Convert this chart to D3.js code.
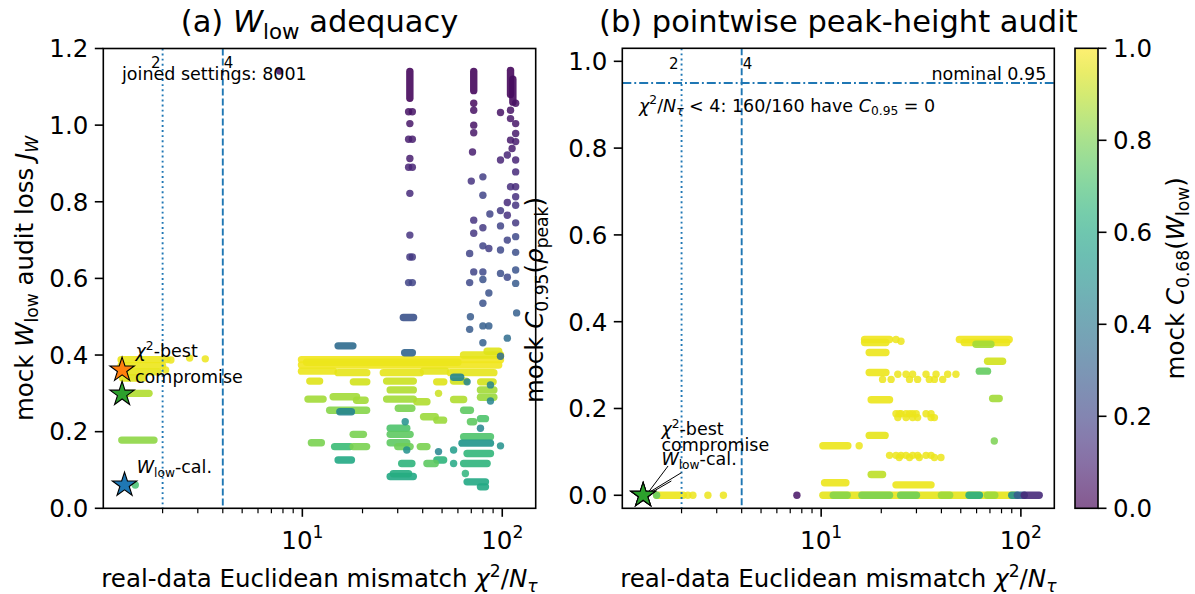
<!DOCTYPE html>
<html><head><meta charset="utf-8">
<script src="https://cdn.jsdelivr.net/npm/d3@7"></script>
<style>
body{margin:0;background:#fff}
text{font-family:"DejaVu Sans",sans-serif;white-space:pre;fill:#000}
</style>
</head><body>
<svg id="c" width="1195" height="594"></svg>
<script>
// ---------------- data ----------------
const X_DOMAIN = [1.01, 147];
const Y_DOMAIN_A = [0, 1.2];
const Y_DOMAIN_B = [-0.03, 1.03];
const Y_TICKS_A = [0, 0.2, 0.4, 0.6, 0.8, 1.0, 1.2];
const Y_TICKS_B = [0, 0.2, 0.4, 0.6, 0.8, 1.0];
const CB_TICKS = [0, 0.2, 0.4, 0.6, 0.8, 1.0];
const X_MAJOR = [10, 100];
const X_MAJOR_EXP = ["1", "2"];
const X_MINOR = [2, 3, 4, 5, 6, 7, 8, 9, 20, 30, 40, 50, 60, 70, 80, 90];
const REF_X = [2, 4];
const REF_X_LABELS = ["2", "4"];
const NOMINAL = 0.95;
const N_JOINED = 8001;
const N_LOW = 160;

// panel (a): streaks of overlapping markers [x1, y1, x2, y2, colourValue]
const A_STREAKS = [
  [1.24,0.388,2.1,0.388,0.97],[1.24,0.372,2.0,0.372,0.97],[1.26,0.356,1.9,0.356,0.96],
  [1.26,0.34,1.6,0.34,0.95],[1.25,0.30,1.71,0.30,0.88],[1.25,0.178,1.81,0.178,0.83],
  [9.9,0.388,98,0.388,0.98],[9.9,0.374,96,0.374,0.98],[10.5,0.381,60,0.381,0.97],
  [64,0.40,98,0.40,0.96],[84,0.41,96,0.41,0.95],
  [9.9,0.358,14.3,0.358,0.97],[15.1,0.354,21,0.354,0.96],[25.4,0.354,38.9,0.354,0.96],
  [40.4,0.358,52,0.358,0.96],[55,0.354,90.8,0.354,0.96],
  [10.9,0.332,12.2,0.332,0.95],[18,0.33,21,0.33,0.93],[26.4,0.332,35.9,0.332,0.92],
  [47,0.33,51,0.33,0.95],[57,0.332,66,0.332,0.93],[78,0.33,90,0.33,0.93],
  [10.67,0.285,12.7,0.285,0.86],[14.26,0.291,18.67,0.291,0.86],[18.67,0.282,20.6,0.282,0.86],
  [13.7,0.256,20.96,0.256,0.82],[15.4,0.252,17.6,0.252,0.45],[17.96,0.193,20.2,0.193,0.8],
  [11.1,0.171,12.45,0.171,0.8],[14.5,0.161,17.3,0.161,0.68],[17.96,0.161,20.96,0.161,0.8],
  [15.1,0.126,17.6,0.126,0.6],[15.1,0.424,17.9,0.424,0.35],
  [27.5,0.309,35.9,0.309,0.88],[26.4,0.285,35.9,0.285,0.86],[30.2,0.261,35.3,0.261,0.8],
  [27.5,0.209,33.3,0.209,0.72],[27.5,0.193,34.6,0.193,0.75],[27.5,0.171,33.3,0.171,0.75],
  [30,0.161,34.6,0.161,0.78],[31.4,0.117,35.3,0.117,0.65],[27.5,0.083,35.9,0.083,0.6],
  [28.5,0.09,34,0.09,0.62],[37.4,0.278,42,0.278,0.88],[40.4,0.239,46.2,0.239,0.85],
  [47.1,0.23,50.9,0.23,0.85],[38.9,0.161,42,0.161,0.8],[47.1,0.126,50.9,0.126,0.65],
  [42,0.117,46.2,0.117,0.75],[32,0.498,36,0.498,0.25],[32.5,0.406,35.5,0.406,0.32],
  [57.1,0.342,62,0.342,0.45],[77.8,0.309,90.8,0.309,0.86],[57.1,0.284,64.1,0.284,0.88],
  [77.8,0.29,90.8,0.29,0.85],[64.1,0.256,69.3,0.256,0.75],[77.8,0.234,82.4,0.234,0.72],
  [69.3,0.226,72,0.226,0.75],[64.1,0.187,87.3,0.187,0.72],[62.9,0.17,87.3,0.17,0.52],
  [66.7,0.143,87.3,0.143,0.66],[64.1,0.117,84,0.117,0.65],[66.7,0.069,82.4,0.069,0.6],
  [77.8,0.056,82.4,0.056,0.6],
  [34.5,1.07,34.5,1.14,0.02],[72,1.09,72,1.14,0.02],[110,1.08,110,1.143,0.02],[113,1.06,113,1.12,0.03]
];
// panel (a): single markers [x, y, colourValue]
const A_POINTS = [
  [2.2,0.387,0.97],[2.73,0.392,0.97],[3.27,0.39,0.97],[2.07,0.361,0.97],[1.46,0.061,0.7],
  [7.7,1.141,0.05],
  [34,1.035,0.05],[35.5,1.035,0.05],[34.5,1.004,0.06],[34,0.963,0.08],[35.5,0.963,0.08],
  [34.5,0.913,0.08],[34,0.89,0.1],[35.5,0.89,0.1],[34.5,0.822,0.12],[34.5,0.713,0.15],
  [34.5,0.656,0.17],[35.5,0.656,0.17],[34,0.589,0.2],[35.5,0.589,0.2],
  [72,1.057,0.03],[72,1.039,0.04],[72,1.0,0.05],[72,0.98,0.06],[71,0.93,0.08],[70,0.854,0.15],
  [80,0.865,0.18],[80,0.817,0.2],[72,0.752,0.15],[80,0.732,0.17],[72,0.718,0.16],[80,0.685,0.2],
  [85.7,0.678,0.18],[68.7,0.665,0.2],[72,0.617,0.2],[80,0.617,0.22],[80,0.597,0.25],
  [68.7,0.589,0.22],[85.7,0.562,0.25],[80,0.535,0.25],
  [69.3,0.5,0.28],[68.7,0.467,0.28],[80,0.476,0.3],[85.7,0.476,0.3],[80,0.432,0.3],[98,0.397,0.35],
  [98,1.033,0.05],[110,1.039,0.05],[116.7,1.057,0.04],[110,1.017,0.06],[116.7,1.004,0.06],
  [116.7,0.978,0.07],[110,0.961,0.07],[116.7,0.957,0.08],[112,0.939,0.08],[98,0.909,0.1],
  [106,0.922,0.1],[116.7,0.909,0.1],[116.7,0.878,0.12],[110,0.839,0.13],[116.7,0.839,0.12],
  [116.7,0.813,0.14],[106,0.798,0.12],[116.7,0.791,0.15],[98,0.777,0.17],[106,0.765,0.14],
  [86.7,0.768,0.2],[116.7,0.745,0.17],[98,0.737,0.2],[116.7,0.709,0.22],[106,0.70,0.2],
  [98,0.674,0.22],[116.7,0.668,0.24],[116.7,0.622,0.26],[98,0.613,0.24],[106,0.603,0.22],
  [116.7,0.587,0.28],[118,0.51,0.3],[106,0.444,0.35],
  [32.7,0.226,0.5],[33.3,0.152,0.5],[48,0.148,0.45],[48,0.30,0.92],[77.8,0.209,0.45],
  [98,0.163,0.5],[57.1,0.152,0.55],[65.4,0.091,0.65],[57.1,0.117,0.6],[66.7,0.33,0.45],
  [87.3,0.322,0.45],[87.3,0.28,0.45]
];

// panel (b)
const B_STREAKS = [
  [16.5,0.359,22,0.359,0.98],[16.5,0.352,21.1,0.352,0.97],[49.2,0.359,87.4,0.359,0.98],
  [52,0.352,85,0.352,0.97],[59.6,0.348,70.8,0.348,0.86],[17.4,0.329,21.1,0.329,0.97],
  [68.1,0.309,81,0.309,0.93],[61.9,0.286,68.1,0.286,0.76],[17.4,0.283,21.1,0.283,0.97],
  [72.2,0.223,77.9,0.223,0.86],[17.8,0.22,22,0.22,0.97],[17.4,0.138,20.9,0.138,0.96],
  [10.2,0.114,13.6,0.114,0.97],[17.8,0.048,20.3,0.048,0.9],[10.4,0.029,13.3,0.029,0.97],
  [23.7,0.024,35.5,0.024,0.97],
  [1.5,0,2.04,0,0.97],[10.2,0,93,0,0.96],[11.5,0,13.5,0,0.82],[16,0,22,0,0.8],
  [25,0,30,0,0.78],[40,0,44,0,0.85],[55,0,62,0,0.62],[68,0,74,0,0.85],
  [90,0,96,0,0.5],[96,0,104,0,0.3],[104,0,123.5,0,0.12]
];
const B_POINTS = [
  [23.7,0.359,0.97],[25.1,0.355,0.97],
  [24.2,0.279,0.97],[26.6,0.279,0.97],[28.7,0.279,0.97],[33.5,0.279,0.97],[37.6,0.279,0.97],[43,0.279,0.97],[47.3,0.279,0.97],
  [20.3,0.267,0.97],[22.4,0.267,0.97],[27.7,0.267,0.97],[30.4,0.267,0.97],[34.8,0.267,0.97],[36.9,0.267,0.97],[40.6,0.267,0.97],
  [23.7,0.188,0.97],[24.6,0.188,0.97],[25.1,0.188,0.97],[26.6,0.188,0.97],[27.7,0.188,0.97],[28.7,0.188,0.97],[29.9,0.188,0.97],[33.5,0.188,0.97],[35.5,0.188,0.97],
  [24.2,0.179,0.97],[26.6,0.179,0.97],[28.7,0.179,0.97],[30.4,0.179,0.97],[35.5,0.179,0.97],[36.9,0.179,0.97],
  [73.6,0.125,0.8],[15.5,0.114,0.97],
  [22,0.092,0.97],[23.7,0.092,0.97],[25.1,0.092,0.97],[26.6,0.092,0.97],[28.7,0.092,0.97],[30.4,0.092,0.97],[33.5,0.092,0.97],[35.5,0.092,0.97],
  [24.6,0.087,0.97],[27.7,0.087,0.97],[31,0.087,0.97],[36.9,0.087,0.97],[39.8,0.087,0.97],
  [1.5,0,0.75],[2.15,0,0.97],[2.28,0,0.97],[2.71,0,0.97],[3.24,0,0.97],[7.56,0,0.05]
];

// highlighted settings
const STAR_NAMES = ["chi2best", "compromise", "wlowcal"];
const STAR_X_A = [1.254, 1.254, 1.29];
const STAR_Y_A = [0.361, 0.298, 0.061];
const STAR_X_B = [1.284, 1.284, 1.284];
const STAR_Y_B = [0, 0, 0];

// ---------------- layout / style ----------------
const FS_TICK = 24.5, FS_LABEL = 24.5, FS_TITLE = 30.5, FS_ANN = 17.5, FS_REF = 15;
const BLUE = "#1f77b4";
const STAR_COL = {chi2best: "#ff7f0e", compromise: "#2ca02c", wlowcal: "#1f77b4"};
const PA = {l: 103.3, r: 535.7, t: 48.5, b: 508.3};
const PB = {l: 622.3, r: 1054.3, t: 48.3, b: 508.3};
const CB = {l: 1075, r: 1098, t: 48.3, b: 508.3};
const R = 3.7;

const svg = d3.select("#c");
const defs = svg.append("defs");

function rich(parent, parts, fs, attrs) {
  const t = parent.append("text").attr("font-size", fs);
  Object.entries(attrs || {}).forEach(([k, v]) => t.attr(k, v));
  let cur = 0;
  parts.forEach(([s, st]) => {
    let off = 0, size = fs, it = false;
    if (st === "i") it = true;
    if (st === "sub" || st === "subi") { off = 0.22 * fs; size = 0.7 * fs; it = st === "subi"; }
    if (st === "sup") { off = -0.42 * fs; size = 0.7 * fs; }
    const ts = t.append("tspan").text(s).attr("font-size", size).attr("dy", off - cur);
    if (it) ts.attr("font-style", "italic");
    cur = off;
  });
  return t;
}

const xLabelParts = [["real-data Euclidean mismatch ","n"],["χ","i"],["2","sup"],["/","n"],["N","i"],["τ","subi"]];

function drawPanel(P, yDomain, yTicks, streaks, points, id) {
  const x = d3.scaleLog().domain(X_DOMAIN).range([P.l, P.r]);
  const y = d3.scaleLinear().domain(yDomain).range([P.b, P.t]);
  const g = svg.append("g");
  defs.append("clipPath").attr("id", "clip" + id)
    .append("rect").attr("x", P.l).attr("y", P.t).attr("width", P.r - P.l).attr("height", P.b - P.t);
  const plot = g.append("g").attr("clip-path", `url(#clip${id})`);

  plot.append("g").selectAll("line").data(streaks).join("line")
    .attr("x1", d => x(d[0])).attr("y1", d => y(d[1]))
    .attr("x2", d => x(d[2])).attr("y2", d => y(d[3]))
    .attr("stroke", d => d3.interpolateViridis(d[4]))
    .attr("stroke-width", 2 * R).attr("stroke-linecap", "round")
    .attr("stroke-opacity", 0.9);
  plot.append("g").selectAll("circle").data(points).join("circle")
    .attr("cx", d => x(d[0])).attr("cy", d => y(d[1])).attr("r", R)
    .attr("fill", d => d3.interpolateViridis(d[2])).attr("fill-opacity", 0.85);

  // reference lines
  REF_X.forEach((v, i) => {
    plot.append("line").attr("x1", x(v)).attr("x2", x(v)).attr("y1", P.t).attr("y2", P.b)
      .attr("stroke", BLUE).attr("stroke-width", 1.9)
      .attr("stroke-dasharray", i === 0 ? "1.9,3.2" : "7,3");
  });

  // frame
  g.append("rect").attr("x", P.l).attr("y", P.t).attr("width", P.r - P.l).attr("height", P.b - P.t)
    .attr("fill", "none").attr("stroke", "#000").attr("stroke-width", 1.6);

  // y ticks
  const yt = g.append("g");
  yt.selectAll("line").data(yTicks).join("line")
    .attr("x1", P.l - 8.5).attr("x2", P.l).attr("y1", d => y(d)).attr("y2", d => y(d))
    .attr("stroke", "#000").attr("stroke-width", 1.6);
  yt.selectAll("text").data(yTicks).join("text")
    .attr("x", P.l - 15).attr("y", d => y(d)).attr("dy", "0.36em")
    .attr("text-anchor", "end").attr("font-size", FS_TICK).text(d => d3.format(".1f")(d));

  // x ticks
  const xt = g.append("g");
  xt.selectAll("line.maj").data(X_MAJOR).join("line").attr("class", "maj")
    .attr("x1", d => x(d)).attr("x2", d => x(d)).attr("y1", P.b).attr("y2", P.b + 8.5)
    .attr("stroke", "#000").attr("stroke-width", 1.6);
  xt.selectAll("line.min").data(X_MINOR).join("line").attr("class", "min")
    .attr("x1", d => x(d)).attr("x2", d => x(d)).attr("y1", P.b).attr("y2", P.b + 5)
    .attr("stroke", "#000").attr("stroke-width", 1.2);
  X_MAJOR.forEach((v, i) => {
    rich(xt, [["10", "n"], [X_MAJOR_EXP[i], "sup"]], FS_TICK,
      {x: x(v), y: 548.5, "text-anchor": "middle"});
  });

  rich(g, xLabelParts, FS_LABEL, {x: (P.l + P.r) / 2, y: 587, "text-anchor": "middle"});
  return {x, y, g, plot};
}

// ---------- panel (a) ----------
const A = drawPanel(PA, Y_DOMAIN_A, Y_TICKS_A, A_STREAKS, A_POINTS, "a");
rich(svg, [["(a) ","n"],["W","i"],["low","sub"],[" adequacy","n"]], FS_TITLE,
  {x: (PA.l + PA.r) / 2, y: 32, "text-anchor": "middle"});
rich(svg, [["mock ","n"],["W","i"],["low","sub"],[" audit loss ","n"],["J","i"],["W","subi"]], FS_LABEL,
  {transform: `translate(33,${(PA.t + PA.b) / 2}) rotate(-90)`, "text-anchor": "middle"});
A.g.append("text").attr("x", A.x(REF_X[0]) - 2).attr("y", 68).attr("text-anchor", "end")
  .attr("font-size", FS_REF).text(REF_X_LABELS[0]);
A.g.append("text").attr("x", A.x(REF_X[1]) + 1).attr("y", 68).attr("text-anchor", "start")
  .attr("font-size", FS_REF).text(REF_X_LABELS[1]);
A.g.append("text").attr("x", 122).attr("y", 80).attr("font-size", FS_ANN)
  .text("joined settings: " + N_JOINED);

const starSym = d3.symbol(d3.symbolStar, 185);
A.g.append("g").selectAll("path").data(STAR_NAMES).join("path")
  .attr("d", starSym)
  .attr("transform", (d, i) => `translate(${A.x(STAR_X_A[i])},${A.y(STAR_Y_A[i])})`)
  .attr("fill", d => STAR_COL[d]).attr("stroke", "#000").attr("stroke-width", 1.1);
const labA = [[["χ","i"],["2","sup"],["-best","n"]], [["compromise","n"]], [["W","i"],["low","sub"],["-cal.","n"]]];
const labAPos = [[135.5, 357], [135, 382.7], [136.7, 472.7]];
labA.forEach((p, i) => rich(A.g, p, FS_ANN, {x: labAPos[i][0], y: labAPos[i][1]}));

// ---------- panel (b) ----------
const B = drawPanel(PB, Y_DOMAIN_B, Y_TICKS_B, B_STREAKS, B_POINTS, "b");
rich(svg, [["(b) pointwise peak-height audit","n"]], FS_TITLE,
  {x: (PB.l + PB.r) / 2, y: 32, "text-anchor": "middle"});
rich(svg, [["mock ","n"],["C","i"],["0.95","sub"],["(","n"],["ρ","i"],["peak","sub"],[")","n"]], FS_LABEL,
  {transform: `translate(543,300) rotate(-90)`, "text-anchor": "middle"});
B.plot.append("line").attr("x1", PB.l).attr("x2", PB.r).attr("y1", B.y(NOMINAL)).attr("y2", B.y(NOMINAL))
  .attr("stroke", BLUE).attr("stroke-width", 1.9).attr("stroke-dasharray", "9,3,1.9,3");
B.g.append("text").attr("x", B.x(REF_X[0]) - 3).attr("y", 69).attr("text-anchor", "end")
  .attr("font-size", FS_REF).text(REF_X_LABELS[0]);
B.g.append("text").attr("x", B.x(REF_X[1]) + 1).attr("y", 69).attr("text-anchor", "start")
  .attr("font-size", FS_REF).text(REF_X_LABELS[1]);
B.g.append("text").attr("x", PB.r - 8).attr("y", 80).attr("text-anchor", "end")
  .attr("font-size", FS_ANN).text("nominal " + NOMINAL);
rich(B.g, [["χ","i"],["2","sup"],["/","n"],["N","i"],["τ","subi"],[` < ${REF_X[1]}: ${N_LOW}/${N_LOW} have `,"n"],["C","i"],["0.95","sub"],[" = 0","n"]],
  FS_ANN, {x: 639, y: 111.5});

// annotation connectors (b)
const labBPos = [[1.585, 0.138], [1.585, 0.101], [1.585, 0.069]];
const connStart = [[1.712, 0.0675], [1.995, 0.052], [1.778, 0.033]];
const connEnd = [[1.36, 0.0062], [1.37, 0.0062], [1.41, 0.0062]];
B.g.append("g").selectAll("line").data(STAR_NAMES).join("line")
  .attr("x1", (d, i) => B.x(connStart[i][0])).attr("y1", (d, i) => B.y(connStart[i][1]))
  .attr("x2", (d, i) => B.x(connEnd[i][0])).attr("y2", (d, i) => B.y(connEnd[i][1]))
  .attr("stroke", "#000").attr("stroke-width", 1);
const order = [0, 2, 1];
B.g.append("g").selectAll("path").data(order).join("path")
  .attr("d", starSym)
  .attr("transform", i => `translate(${B.x(STAR_X_B[i])},${B.y(STAR_Y_B[i])})`)
  .attr("fill", i => STAR_COL[STAR_NAMES[i]]).attr("stroke", "#000").attr("stroke-width", 1.1);
labA.forEach((p, i) => rich(B.g, p, FS_ANN, {x: B.x(labBPos[i][0]), y: B.y(labBPos[i][1])}));

// ---------- colourbar ----------
const cy = d3.scaleLinear().domain([0, 1]).range([CB.b, CB.t]);
const grad = defs.append("linearGradient").attr("id", "vir").attr("x1", 0).attr("y1", 1).attr("x2", 0).attr("y2", 0);
d3.range(0, 1.0001, 0.05).forEach(t => grad.append("stop").attr("offset", t).attr("stop-color", d3.interpolateViridis(t)));
svg.append("rect").attr("x", CB.l).attr("y", CB.t).attr("width", CB.r - CB.l).attr("height", CB.b - CB.t)
  .attr("fill", "url(#vir)").attr("fill-opacity", 0.65);
svg.append("rect").attr("x", CB.l).attr("y", CB.t).attr("width", CB.r - CB.l).attr("height", CB.b - CB.t)
  .attr("fill", "none").attr("stroke", "#000").attr("stroke-width", 1.6);
const cbt = svg.append("g");
cbt.selectAll("line").data(CB_TICKS).join("line")
  .attr("x1", CB.r).attr("x2", CB.r + 8.5).attr("y1", d => cy(d)).attr("y2", d => cy(d))
  .attr("stroke", "#000").attr("stroke-width", 1.6);
cbt.selectAll("text").data(CB_TICKS).join("text")
  .attr("x", CB.r + 15).attr("y", d => cy(d)).attr("dy", "0.36em")
  .attr("font-size", FS_TICK).text(d => d3.format(".1f")(d));
rich(svg, [["mock ","n"],["C","i"],["0.68","sub"],["(","n"],["W","i"],["low","sub"],[")","n"]], FS_LABEL,
  {transform: `translate(1184,${(CB.t + CB.b) / 2}) rotate(-90)`, "text-anchor": "middle"});
</script>
</body></html>
